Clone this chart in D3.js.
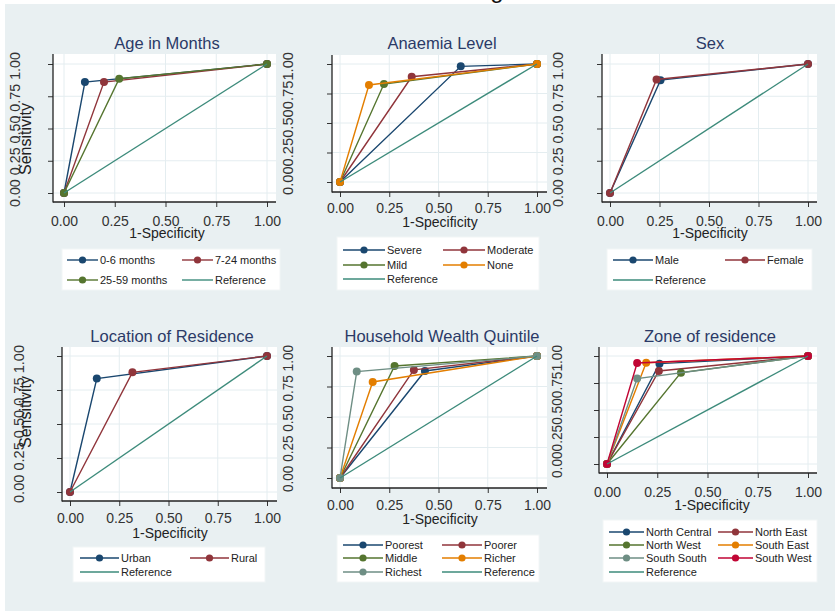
<!DOCTYPE html>
<html>
<head>
<meta charset="utf-8">
<script src="https://cdn.jsdelivr.net/npm/d3@7"></script>
<style>
body { margin: 0; background: #fff; }
text { font-family: "Liberation Sans", Arial, sans-serif; }
</style>
</head>
<body>
<svg id="chart" width="835" height="613"></svg>
<script>
// axis ticks shared by every panel
const tickValues = [0, 0.25, 0.5, 0.75, 1];
const tickLabels = ['0.00', '0.25', '0.50', '0.75', '1.00'];
const referenceLine = [0, 1];

// each group: one cut point (1-specificity, sensitivity) between (0,0) and (1,1)
const ageGroups = ['0-6 months', '7-24 months', '25-59 months'];
const ageSpec = [0.103, 0.197, 0.272];
const ageSens = [0.86, 0.86, 0.886];

const anaemiaGroups = ['Severe', 'Moderate', 'Mild', 'None'];
const anaemiaSpec = [0.613, 0.364, 0.223, 0.147];
const anaemiaSens = [0.98, 0.892, 0.83, 0.822];

const sexGroups = ['Male', 'Female'];
const sexSpec = [0.255, 0.235];
const sexSens = [0.875, 0.88];

const locationGroups = ['Urban', 'Rural'];
const locationSpec = [0.136, 0.317];
const locationSens = [0.834, 0.88];

const wealthGroups = ['Poorest', 'Poorer', 'Middle', 'Richer', 'Richest'];
const wealthSpec = [0.431, 0.375, 0.277, 0.166, 0.085];
const wealthSens = [0.877, 0.886, 0.918, 0.787, 0.872];

const zoneGroups = ['North Central', 'North East', 'North West', 'South East', 'South South', 'South West'];
const zoneSpec = [0.261, 0.258, 0.368, 0.195, 0.150, 0.150];
const zoneSens = [0.929, 0.861, 0.846, 0.938, 0.791, 0.935];

const seriesColors = ['#1a476f', '#90353b', '#55752f', '#e37e00', '#6e8e84', '#c10534'];
const referenceColor = '#3d8b7b';
const gridColor = '#e4edf0';
const bgColor = '#e9f0f2';

const panels = [
    { title: 'Age in Months', groups: ageGroups, spec: ageSpec, sens: ageSens,
      x: [64, 267], y: [193, 64], left: 53, bottom: 202, right: 276, top: 54,
      titleX: 167, titleY: 49, tickY: 226, labelX: 167, labelY: 238,
      yText: { x: 15, y: 129.5, len: 155, gap: ' ' }, yTitle: { x: 25, y: 139 },
      legend: { box: [62, 249, 280, 290], rows: [260, 280], cols: [67, 182], key: 31 } },
    { title: 'Anaemia Level', groups: anaemiaGroups, spec: anaemiaSpec, sens: anaemiaSens,
      x: [340, 537], y: [182, 64], left: 332, bottom: 192, right: 547, top: 55,
      titleX: 442, titleY: 49, tickY: 213, labelX: 440, labelY: 226.5,
      yText: { x: 288, y: 123.5, len: 143, gap: '' },
      legend: { box: [337, 237, 539, 290], rows: [250, 265, 279], cols: [343, 443], key: 42 } },
    { title: 'Sex', groups: sexGroups, spec: sexSpec, sens: sexSens,
      x: [610, 808], y: [193, 64], left: 602, bottom: 202, right: 817, top: 54,
      titleX: 710, titleY: 49, tickY: 226, labelX: 710, labelY: 238,
      yText: { x: 558, y: 129.5, len: 155, gap: ' ' },
      legend: { box: [607, 249, 812, 290], rows: [260, 280], cols: [613, 725], key: 40 } },
    { title: 'Location of Residence', groups: locationGroups, spec: locationSpec, sens: locationSens,
      x: [70, 267], y: [492, 356], left: 62, bottom: 501, right: 277, top: 347,
      titleX: 172, titleY: 342, tickY: 523, labelX: 170, labelY: 537.5,
      yText: { x: 19, y: 424, len: 158, gap: ' ' }, yTitle: { x: 25, y: 412 },
      legend: { box: [73, 547, 265, 582], rows: [558, 572], cols: [80, 190], key: 39 } },
    { title: 'Household Wealth Quintile', groups: wealthGroups, spec: wealthSpec, sens: wealthSens,
      x: [340, 537], y: [478, 356], left: 332, bottom: 488, right: 547, top: 347,
      titleX: 442, titleY: 342, tickY: 510, labelX: 440, labelY: 523.5,
      yText: { x: 288, y: 418.5, len: 147, gap: ' ' },
      legend: { box: [337, 535, 539, 582], rows: [545, 558, 572], cols: [343, 442], key: 40 } },
    { title: 'Zone of residence', groups: zoneGroups, spec: zoneSpec, sens: zoneSens,
      x: [607, 808], y: [464, 356], left: 599, bottom: 473, right: 817, top: 347,
      titleX: 710, titleY: 342, tickY: 497, labelX: 712, labelY: 509.5,
      yText: { x: 557, y: 411.5, len: 133, gap: '' },
      legend: { box: [603, 520, 817, 582], rows: [532, 545, 558, 572], cols: [609, 718], key: 35 } }
];

const svg = d3.select('#chart');

function drawBackground() {
    svg.append('rect').attr('width', 835).attr('height', 613).attr('fill', '#fff');
    svg.append('rect').attr('x', 5).attr('y', 4).attr('width', 830).attr('height', 607).attr('fill', bgColor);
    // remains of the cut-off overall title
    svg.append('text').attr('x', 497).attr('y', -2.5).attr('text-anchor', 'middle')
        .attr('font-size', 24).attr('fill', '#111').text('g');
}

function drawPanel(p) {
    const g = svg.append('g');
    const xScale = d3.scaleLinear().domain([0, 1]).range(p.x);
    const yScale = d3.scaleLinear().domain([0, 1]).range(p.y);

    g.append('rect')
        .attr('x', p.left).attr('y', p.top)
        .attr('width', p.right - p.left).attr('height', p.bottom - p.top)
        .attr('fill', '#fff');

    // grid
    g.selectAll('line.vgrid').data(tickValues).enter().append('line')
        .attr('x1', d => xScale(d)).attr('x2', d => xScale(d))
        .attr('y1', p.top).attr('y2', p.bottom)
        .attr('stroke', gridColor).attr('stroke-width', 1);
    g.selectAll('line.hgrid').data(tickValues).enter().append('line')
        .attr('x1', p.left).attr('x2', p.right)
        .attr('y1', d => yScale(d)).attr('y2', d => yScale(d))
        .attr('stroke', gridColor).attr('stroke-width', 1);

    // axes
    const xAxis = d3.axisBottom(xScale)
        .tickValues(tickValues)
        .tickFormat((d, i) => tickLabels[i])
        .tickSize(5).tickSizeOuter(0)
        .tickPadding(p.tickY - p.bottom - 5 - 0.71 * 14);
    g.append('g')
        .attr('transform', `translate(0,${p.bottom})`)
        .call(xAxis)
        .call(a => a.select('.domain').remove())
        .attr('font-size', 14).attr('font-family', '"Liberation Sans", Arial, sans-serif')
        .attr('color', '#333');

    const yAxis = d3.axisLeft(yScale).tickValues(tickValues).tickFormat('').tickSize(5).tickSizeOuter(0);
    g.append('g')
        .attr('transform', `translate(${p.left},0)`)
        .call(yAxis)
        .call(a => a.select('.domain').remove())
        .attr('color', '#333');

    g.append('line').attr('x1', p.left).attr('x2', p.left).attr('y1', p.top).attr('y2', p.bottom + 0.5)
        .attr('stroke', '#222').attr('stroke-width', 1.3);
    g.append('line').attr('x1', p.left).attr('x2', p.right).attr('y1', p.bottom).attr('y2', p.bottom)
        .attr('stroke', '#222').attr('stroke-width', 1.3);

    // curves
    const line = d3.line().x(d => xScale(d[0])).y(d => yScale(d[1]));
    p.groups.forEach((name, i) => {
        const pts = [[0, 0], [p.spec[i], p.sens[i]], [1, 1]];
        g.append('path').datum(pts)
            .attr('d', line)
            .attr('fill', 'none')
            .attr('stroke', seriesColors[i])
            .attr('stroke-width', 1.4);
        g.selectAll(null).data(pts).enter().append('circle')
            .attr('cx', d => xScale(d[0]))
            .attr('cy', d => yScale(d[1]))
            .attr('r', 4)
            .attr('fill', seriesColors[i]);
    });
    g.append('path').datum(referenceLine.map(v => [v, v]))
        .attr('d', line)
        .attr('fill', 'none')
        .attr('stroke', referenceColor)
        .attr('stroke-width', 1.4);

    // titles
    g.append('text').attr('x', p.titleX).attr('y', p.titleY)
        .attr('text-anchor', 'middle').attr('font-size', 16.5).attr('fill', '#2b3a67')
        .text(p.title);
    g.append('text').attr('x', p.labelX).attr('y', p.labelY)
        .attr('text-anchor', 'middle').attr('font-size', 14).attr('fill', '#222')
        .text('1-Specificity');

    // squeezed y tick labels
    g.append('text')
        .attr('transform', `translate(${p.yText.x},${p.yText.y}) rotate(-90)`)
        .attr('text-anchor', 'middle').attr('dominant-baseline', 'central')
        .attr('font-size', 14).attr('fill', '#333')
        .attr('textLength', p.yText.len).attr('lengthAdjust', 'spacingAndGlyphs')
        .text(tickLabels.join(p.yText.gap));
    if (p.yTitle) {
        g.append('text')
            .attr('transform', `translate(${p.yTitle.x},${p.yTitle.y}) rotate(-90)`)
            .attr('text-anchor', 'middle').attr('dominant-baseline', 'central')
            .attr('font-size', 16).attr('fill', '#222')
            .text('Sensitivity');
    }

    drawLegend(g, p);
}

function drawLegend(g, p) {
    const lg = p.legend;
    g.append('rect')
        .attr('x', lg.box[0]).attr('y', lg.box[1])
        .attr('width', lg.box[2] - lg.box[0]).attr('height', lg.box[3] - lg.box[1])
        .attr('fill', '#fff').attr('stroke', '#f2f5f6');

    const items = p.groups.map((name, i) => ({ name, color: seriesColors[i], marker: true }));
    items.push({ name: 'Reference', color: referenceColor, marker: false });

    items.forEach((d, i) => {
        const x0 = lg.cols[i % 2];
        const y = lg.rows[Math.floor(i / 2)];
        g.append('line')
            .attr('x1', x0).attr('x2', x0 + lg.key)
            .attr('y1', y).attr('y2', y)
            .attr('stroke', d.color).attr('stroke-width', 1.4);
        if (d.marker) {
            g.append('circle').attr('cx', x0 + lg.key / 2).attr('cy', y).attr('r', 3.6).attr('fill', d.color);
        }
        g.append('text')
            .attr('x', x0 + lg.key + 2).attr('y', y)
            .attr('dominant-baseline', 'central')
            .attr('font-size', 11).attr('fill', '#222')
            .text(d.name);
    });
}

drawBackground();
panels.forEach(drawPanel);
</script>
</body>
</html>
